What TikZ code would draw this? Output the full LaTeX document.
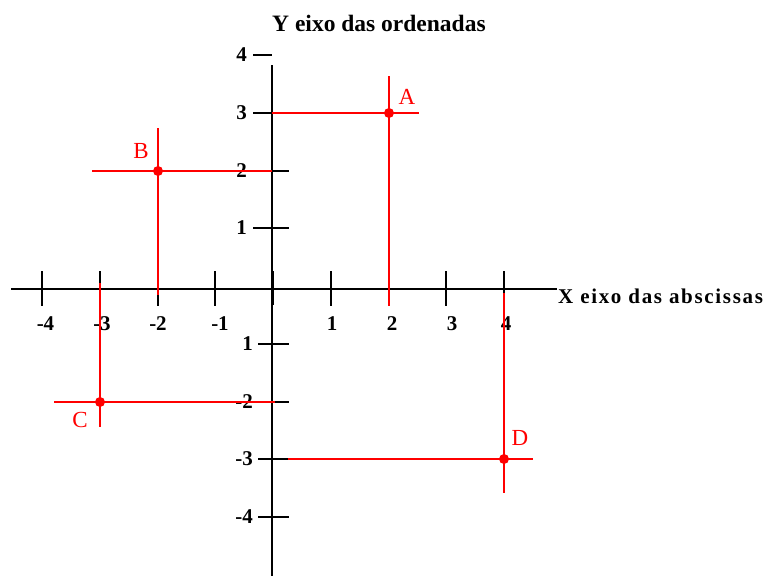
\documentclass[tikz,border=0pt]{standalone}
\usepackage{fontspec}
\setmainfont{Liberation Serif}
\begin{document}
\begin{tikzpicture}[x=1pt,y=-1pt,
  axisline/.style={line width=1.5pt, black},
  tickline/.style={line width=1.4pt, black},
  guide/.style={line width=1.5pt, red},
  dot/.style={circle, fill=red, inner sep=0pt, minimum size=10pt},
  num/.style={font=\fontsize{21}{21}\selectfont\bfseries, inner sep=0pt, text=black},
  ptlabel/.style={font=\fontsize{23}{23}\selectfont, text=red, inner sep=0pt},
  ytitle/.style={font=\fontsize{23.5}{23.5}\selectfont\bfseries, inner sep=0pt},
  xtitle/.style={font=\fontsize{21}{21}\selectfont\bfseries\addfontfeature{LetterSpace=8}, inner sep=0pt}]
\useasboundingbox (0,0) rectangle (768,576);

% axes
\coordinate (xl) at (11,289);
\coordinate (xr) at (557,289);
\coordinate (yt) at (272,65);
\coordinate (yb) at (272,576);
\draw[axisline] (xl) -- (xr);
\draw[axisline] (yt) -- (yb);
\coordinate (o1) at (272.5,271);
\coordinate (o2) at (272.5,305);
\draw[line width=3pt] (o1) -- (o2);

% x ticks and labels
\foreach \k/\px/\lx/\txt in {-4/42/45.5/-4,-3/100/102/-3,-2/158/158/-2,-1/215/220/-1,1/331/332/1,2/389/392/2,3/446/452/3,4/504/506/4}{
  \coordinate (xt\k a) at (\px,271);
  \coordinate (xt\k b) at (\px,306);
  \draw[tickline] (xt\k a) -- (xt\k b);
  \node[num] (xlab\k) at (\lx,324) {\txt};
}

% y ticks and labels
\foreach \k/\py/\ya/\yb/\lx/\txt in {4/55/253/272/247/4,3/113/253/272/247/3,2/171/253/289/247/2,1/228/253/289/247/1,-1/344/258/289/253/1,-2/402/258/289/253/-2,-3/459/258/289/253/-3,-4/517/258/289/253/-4}{
  \coordinate (yt\k a) at (\ya,\py);
  \coordinate (yt\k b) at (\yb,\py);
  \draw[tickline] (yt\k a) -- (yt\k b);
  \node[num, anchor=east] (ylab\k) at (\lx,\py) {\txt};
}

% titles
\node[ytitle, anchor=base west] (ytit) at (272,31) {Y eixo das ordenadas};
\node[xtitle, anchor=base west] (xtit) at (558,303) {X eixo das abscissas};

% point A (2,3)
\coordinate (Ah1) at (272,113);
\coordinate (Ah2) at (419,113);
\coordinate (Av1) at (389,76);
\coordinate (Av2) at (389,306);
\draw[guide] (Ah1) -- (Ah2);
\draw[guide] (Av1) -- (Av2);
\node[dot] (A) at (389,113) {};
\node[ptlabel] (Alab) at (407,97) {A};

% point B (-2,2)
\coordinate (Bh1) at (92,171);
\coordinate (Bh2) at (272,171);
\coordinate (Bv1) at (158,128);
\coordinate (Bv2) at (158,295);
\draw[guide] (Bh1) -- (Bh2);
\draw[guide] (Bv1) -- (Bv2);
\node[dot] (B) at (158,171) {};
\node[ptlabel] (Blab) at (141,151) {B};

% point C (-3,-2)
\coordinate (Ch1) at (54,402);
\coordinate (Ch2) at (275,402);
\coordinate (Cv1) at (100,283);
\coordinate (Cv2) at (100,427);
\draw[guide] (Ch1) -- (Ch2);
\draw[guide] (Cv1) -- (Cv2);
\node[dot] (C) at (100,402) {};
\node[ptlabel] (Clab) at (80,420) {C};

% point D (4,-3)
\coordinate (Dh1) at (288,459);
\coordinate (Dh2) at (533,459);
\coordinate (Dv1) at (504,293);
\coordinate (Dv2) at (504,493);
\draw[guide] (Dh1) -- (Dh2);
\draw[guide] (Dv1) -- (Dv2);
\node[dot] (D) at (504,459) {};
\node[ptlabel] (Dlab) at (520,438) {D};
\end{tikzpicture}
\end{document}
